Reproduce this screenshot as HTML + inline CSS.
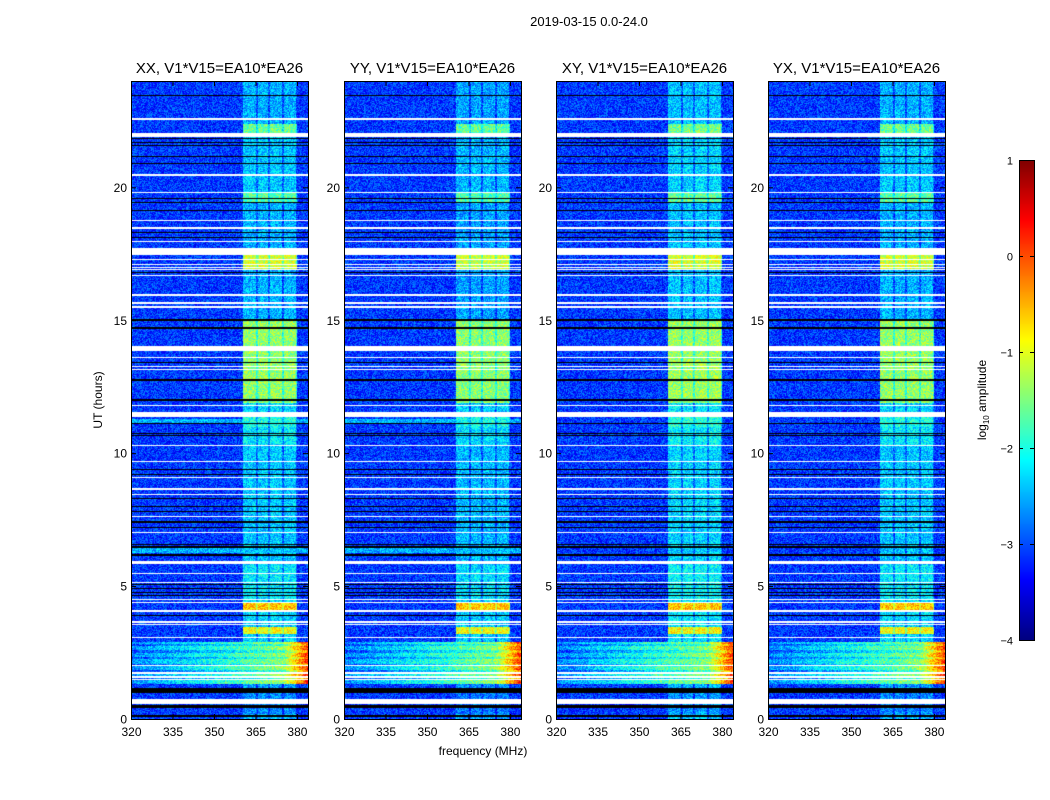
<!DOCTYPE html>
<html><head><meta charset="utf-8"><style>
html,body{margin:0;padding:0;background:#fff;}
#root{position:relative;width:1050px;height:800px;overflow:hidden;font-family:"Liberation Sans",sans-serif;}
canvas{position:absolute;}
svg{position:absolute;left:0;top:0;}
</style></head><body>
<div id="root">
<canvas id="c0" width="177" height="638" style="left:131px;top:81px"></canvas>
<canvas id="c1" width="177" height="638" style="left:344px;top:81px"></canvas>
<canvas id="c2" width="177" height="638" style="left:556px;top:81px"></canvas>
<canvas id="c3" width="177" height="638" style="left:768px;top:81px"></canvas>
<canvas id="cb" width="15" height="480" style="left:1019px;top:160px"></canvas>
<svg id="ov" width="1050" height="800"></svg>
</div>
<script>
const panelTitles = ['XX, V1*V15=EA10*EA26','YY, V1*V15=EA10*EA26','XY, V1*V15=EA10*EA26','YX, V1*V15=EA10*EA26'];
const panelLefts = [131,344,556,768];
const xTicks = [320,335,350,365,380];
const yTicks = [0,5,10,15,20];
const cbTicks = [1,0,-1,-2,-3,-4];
const subbands = [[360.4,365.1],[365.8,369.7],[370.4,374.7],[375.5,379.8]];
const bandLevels = [[0.2,1.0,-2.7],[1.0,1.3,-2.6],[2.9,3.2,-2.3],[3.2,3.45,-0.9],[3.45,4.1,-2.3],[4.1,4.4,-0.6],[4.4,5.8,-2.2],[5.8,10.3,-2.4],[10.3,11.0,-2.2],[11.0,11.4,-2.0],[11.4,11.9,-2.3],[11.9,15.0,-1.4],[15.0,16.9,-2.5],[16.9,17.5,-1.1],[17.5,19.4,-2.5],[19.4,19.8,-1.7],[19.8,21.9,-2.4],[21.9,22.4,-1.6],[22.4,24,-2.5]];
const whiteFlags = [[22.55,22.62],[21.9,22.05],[20.44,20.5],[19.77,19.83],[18.72,18.77],[18.45,18.5],[17.93,17.98],[17.45,17.72],[17.28,17.31],[17.18,17.21],[17.08,17.11],[16.98,17.01],[16.88,16.91],[16.65,16.69],[15.93,15.97],[15.62,15.7],[15.45,15.52],[13.85,14.03],[13.58,13.62],[13.24,13.27],[13.14,13.17],[11.78,11.82],[11.36,11.55],[10.28,10.32],[9.65,9.69],[9.05,9.09],[8.62,8.68],[8.41,8.45],[7.58,7.62],[6.98,7.02],[5.83,5.93],[5.47,5.51],[5.13,5.17],[4.48,4.52],[4.38,4.42],[4.02,4.1],[3.63,3.67],[3.52,3.56],[3.03,3.07],[2.01,2.05],[1.9,1.93],[1.71,1.75],[1.56,1.6],[1.45,1.49],[0.56,0.75]];
const blackFlags = [[23.42,23.47],[21.8,21.86],[21.68,21.72],[21.55,21.6],[21.13,21.18],[20.88,20.93],[19.55,19.6],[19.4,19.45],[19.1,19.15],[18.27,18.31],[18.08,18.12],[16.78,16.82],[14.98,15.04],[14.68,14.74],[13.38,13.43],[12.73,12.78],[11.98,12.03],[11.08,11.12],[10.73,10.77],[10.63,10.67],[9.35,9.39],[9.16,9.2],[8.29,8.33],[7.96,8.0],[7.77,7.81],[7.39,7.43],[7.2,7.24],[6.53,6.57],[6.45,6.49],[6.15,6.19],[5.05,5.09],[4.9,4.93],[4.75,4.78],[4.62,4.66],[3.88,3.93],[0.97,1.17],[0.41,0.53],[0.07,0.15]];
const panelGain = [1.0,1.03,0.97,1.0];

const fx = f => (f-320)*177/64;
const hy = h => (24-h)*638/24;
function jet(v){
  let t=Math.max(0,Math.min(1,(v+4)/5));
  const r=Math.max(0,Math.min(1,1.5-Math.abs(4*t-3)));
  const g=Math.max(0,Math.min(1,1.5-Math.abs(4*t-2)));
  const b=Math.max(0,Math.min(1,1.5-Math.abs(4*t-1)));
  return [r*255|0,g*255|0,b*255|0];
}
function inR(list,h){for(const s of list){if(h>=s[0]&&h<s[1])return true;}return false;}
function hash(x,y,p){let n=(x*374761393+y*668265263+p*1442695041)|0;n=(n^(n>>>13))*1274126177|0;return ((n^(n>>>16))>>>0)/4294967295;}
function bandLevel(h){for(const s of bandLevels){if(h>=s[0]&&h<s[1])return s[2];}return -2.5;}

for(let p=0;p<4;p++){
  const cv=document.getElementById('c'+p),ctx=cv.getContext('2d');
  const img=ctx.createImageData(177,638);
  for(let y=0;y<638;y++){
    const h=24-(y+0.5)*24/638;
    const white=inR(whiteFlags,h), black=inR(blackFlags,h);
    const bl=bandLevel(h)*panelGain[p];
    for(let x=0;x<177;x++){
      const i=(y*177+x)*4;
      if(white){img.data[i]=255;img.data[i+1]=255;img.data[i+2]=255;img.data[i+3]=255;continue;}
      if(black){img.data[i]=0;img.data[i+1]=0;img.data[i+2]=0;img.data[i+3]=255;continue;}
      const f=320+(x+0.5)*64/177;
      let v=-3.1;
      let inb=false;for(const s of subbands){if(f>=s[0]&&f<s[1])inb=true;}
      if(inb) v=bl; else if(f>=360.4&&f<380) v=Math.max(v,bl-0.5);
      if(p<2&&h>=6.25&&h<6.42) v=Math.max(v,-2.5);
      if(p<2&&h>=11.1&&h<11.3) v=Math.max(v,-2.5);
      if(h>=1.3&&h<2.9){
        let b=-2.7+1.5*(f-320)/64+(f>375?(f-375)/9*1.4:0);
        if(Math.floor(h*12)%3==0) b-=0.4;
        v=Math.max(v,b);
      }
      v+=(hash(x,y,p)-0.5)*0.9;
      const c=jet(v);
      img.data[i]=c[0];img.data[i+1]=c[1];img.data[i+2]=c[2];img.data[i+3]=255;
    }
  }
  ctx.putImageData(img,0,0);
}
(function(){const ctx=document.getElementById('cb').getContext('2d');
for(let y=0;y<480;y++){const v=1-5*(y+0.5)/480;const c=jet(v);ctx.fillStyle='rgb('+c+')';ctx.fillRect(0,y,15,1);}})();

const NS='http://www.w3.org/2000/svg', ov=document.getElementById('ov');
function mk(tag,attrs,text){const e=document.createElementNS(NS,tag);for(const k in attrs)e.setAttribute(k,attrs[k]);if(text!==undefined)e.textContent=text;ov.appendChild(e);return e;}
let t=mk('text',{x:589,y:26,'font-size':13,'text-anchor':'middle'},'2019-03-15 0.0-24.0');


for(let p=0;p<4;p++){
  const L=panelLefts[p],T=81;
  const fr=mk('rect',{x:L+0.5,y:T+0.5,width:177,height:638,fill:'none',stroke:'#000','stroke-width':1});
  
  
  const tt=mk('text',{x:L+88.5,y:73,'font-size':15,'text-anchor':'middle'},panelTitles[p]);
  
  
  for(const f of xTicks){const X=L+fx(f)+0.5;
    mk('line',{x1:X,x2:X,y1:T,y2:T+5,stroke:'#000'});mk('line',{x1:X,x2:X,y1:T+638,y2:T+633,stroke:'#000'});
    const lb=mk('text',{x:X,y:736,'font-size':12,'text-anchor':'middle'},String(f));
    
    
  }
  for(const h of yTicks){const Y=T+hy(h)+0.5;
    mk('line',{x1:L,x2:L+5,y1:Y,y2:Y,stroke:'#000'});mk('line',{x1:L+177,x2:L+172,y1:Y,y2:Y,stroke:'#000'});
    const lb=mk('text',{x:L-4,y:Y+4,'font-size':12,'text-anchor':'end'},String(h));
    
    
  }
}
t=mk('text',{x:483,y:755,'font-size':12,'text-anchor':'middle'},'frequency (MHz)');


t=mk('text',{x:102,y:400,'font-size':12,'text-anchor':'middle',transform:'rotate(-90 102 400)'},'UT (hours)');


const cbf=mk('rect',{x:1019.5,y:160.5,width:15,height:480,fill:'none',stroke:'#000'});


for(const v of cbTicks){const Y=160+(1-v)*96+0.5;
  mk('line',{x1:1019,x2:1023,y1:Y,y2:Y,stroke:'#000'});mk('line',{x1:1034,x2:1030,y1:Y,y2:Y,stroke:'#000'});
  const lb=mk('text',{x:1013,y:Y+4,'font-size':11,'text-anchor':'end'},v<0?'\u2212'+(-v):String(v));
  
  
}
t=mk('text',{x:986,y:400,'font-size':12,'text-anchor':'middle',transform:'rotate(-90 986 400)'});
t.innerHTML='log<tspan font-size="8" dy="3">10</tspan><tspan dy="-3"> amplitude</tspan>';


</script>
</body></html>
